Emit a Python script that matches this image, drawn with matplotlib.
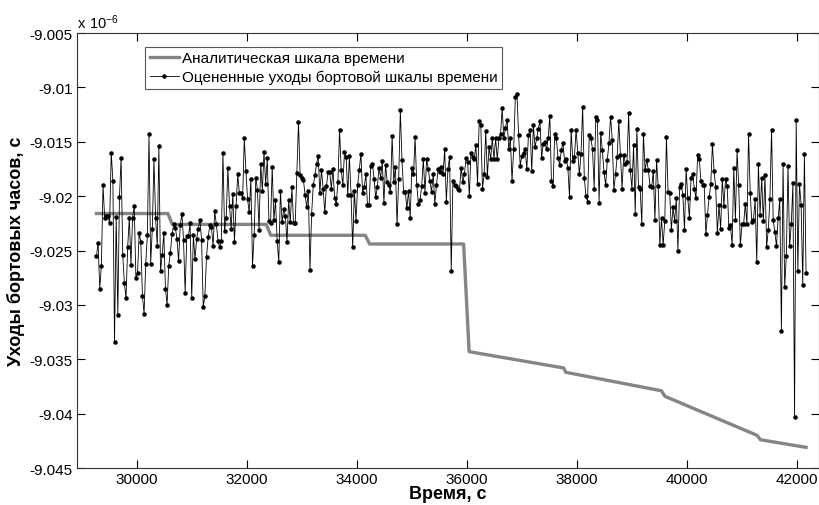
import numpy as np
import matplotlib
matplotlib.use('Agg')
import matplotlib.pyplot as plt

plt.rcParams['font.family'] = ['Liberation Sans', 'DejaVu Sans']
plt.rcParams['axes.unicode_minus'] = False

# оцененные уходы бортовой шкалы времени (в единицах 1e-6 с)
t_first, t_last = 29260, 42170
drift_a = [-9.0255, -9.0243, -9.0285, -9.0264, -9.0190, -9.0220, -9.0218, -9.0218, -9.0225, -9.0160,
           -9.0186, -9.0334, -9.0219, -9.0309, -9.0201, -9.0165, -9.0254, -9.0280, -9.0294, -9.0247,
           -9.0220, -9.0263, -9.0220, -9.0209, -9.0275, -9.0271, -9.0234, -9.0242, -9.0292, -9.0308,
           -9.0262, -9.0236, -9.0143, -9.0262, -9.0230, -9.0166, -9.0220, -9.0246, -9.0154, -9.0269,
           -9.0254, -9.0234, -9.0285, -9.0300, -9.0264, -9.0252, -9.0235, -9.0226, -9.0229, -9.0239,
           -9.0260, -9.0227, -9.0216, -9.0240, -9.0289, -9.0237, -9.0237, -9.0225, -9.0294, -9.0236,
           -9.0258, -9.0239, -9.0230, -9.0222, -9.0240, -9.0302, -9.0292, -9.0256, -9.0238, -9.0227,
           -9.0228, -9.0246, -9.0214, -9.0226, -9.0241, -9.0247, -9.0241, -9.0160, -9.0232, -9.0220,
           -9.0174, -9.0209, -9.0230, -9.0198, -9.0242, -9.0209, -9.0180, -9.0197, -9.0197, -9.0202,
           -9.0147, -9.0177, -9.0203, -9.0215, -9.0184]
drift_b = [-9.0264, -9.0236, -9.0183, -9.0194, -9.0231, -9.0170, -9.0195, -9.0159, -9.0189, -9.0165,
           -9.0223, -9.0225, -9.0173, -9.0222, -9.0204, -9.0241, -9.0261, -9.0195, -9.0224, -9.0212,
           -9.0218, -9.0242, -9.0204, -9.0224, -9.0192, -9.0225, -9.0225, -9.0179, -9.0132, -9.0181,
           -9.0183, -9.0185, -9.0199, -9.0210, -9.0195, -9.0268, -9.0216, -9.0190, -9.0181, -9.0170,
           -9.0163, -9.0197, -9.0176, -9.0193, -9.0215, -9.0191, -9.0178, -9.0178, -9.0193, -9.0175,
           -9.0202, -9.0207, -9.0187, -9.0139, -9.0176, -9.0190, -9.0159, -9.0164, -9.0199, -9.0163,
           -9.0199, -9.0247, -9.0195, -9.0223, -9.0190, -9.0176, -9.0161, -9.0197, -9.0192, -9.0180,
           -9.0208, -9.0208, -9.0172, -9.0170, -9.0184, -9.0201, -9.0192, -9.0174, -9.0183, -9.0168,
           -9.0206, -9.0171, -9.0187, -9.0190, -9.0196, -9.0145, -9.0187, -9.0173, -9.0226, -9.0184]
drift_c = [-9.0121, -9.0167, -9.0196, -9.0196, -9.0211, -9.0195, -9.0220, -9.0174, -9.0180, -9.0146,
           -9.0190, -9.0207, -9.0204, -9.0191, -9.0166, -9.0197, -9.0166, -9.0175, -9.0186, -9.0196,
           -9.0180, -9.0207, -9.0190, -9.0175, -9.0178, -9.0173, -9.0180, -9.0157, -9.0205, -9.0175,
           -9.0164, -9.0269, -9.0186, -9.0190, -9.0191, -9.0193, -9.0194, -9.0174, -9.0187, -9.0180,
           -9.0165, -9.0169, -9.0200, -9.0160, -9.0164, -9.0166, -9.0153, -9.0189, -9.0131, -9.0135,
           -9.0193, -9.0180, -9.0140, -9.0182, -9.0155, -9.0166, -9.0147, -9.0166, -9.0147, -9.0166,
           -9.0147, -9.0143, -9.0119, -9.0147, -9.0137, -9.0130, -9.0157, -9.0147, -9.0186, -9.0157,
           -9.0109, -9.0106, -9.0144, -9.0172, -9.0163, -9.0160, -9.0157, -9.0175, -9.0144, -9.0139,
           -9.0177, -9.0135, -9.0155, -9.0147, -9.0138, -9.0131, -9.0165, -9.0152, -9.0150, -9.0157,
           -9.0147, -9.0126]
drift_d = [-9.0186, -9.0191, -9.0143, -9.0147, -9.0165, -9.0171, -9.0158, -9.0151, -9.0168, -9.0166,
           -9.0174, -9.0201, -9.0139, -9.0168, -9.0164, -9.0139, -9.0160, -9.0180, -9.0161, -9.0118,
           -9.0183, -9.0200, -9.0205, -9.0144, -9.0147, -9.0157, -9.0193, -9.0127, -9.0130, -9.0206,
           -9.0142, -9.0158, -9.0178, -9.0190, -9.0167, -9.0151, -9.0127, -9.0148, -9.0194, -9.0180,
           -9.0164, -9.0131, -9.0162, -9.0193, -9.0162, -9.0170, -9.0169, -9.0124, -9.0176, -9.0193,
           -9.0153, -9.0216, -9.0138, -9.0192, -9.0193, -9.0226, -9.0143, -9.0176, -9.0167, -9.0176,
           -9.0191, -9.0192, -9.0177, -9.0222, -9.0167, -9.0191, -9.0245, -9.0220, -9.0245, -9.0223,
           -9.0146, -9.0196, -9.0197, -9.0231, -9.0210, -9.0223, -9.0202, -9.0250, -9.0192, -9.0189,
           -9.0199, -9.0231, -9.0175, -9.0202, -9.0220, -9.0183, -9.0180, -9.0193, -9.0202, -9.0162,
           -9.0166]
drift_e = [-9.0186, -9.0190, -9.0190, -9.0235, -9.0217, -9.0201, -9.0189, -9.0152, -9.0177, -9.0192,
           -9.0234, -9.0208, -9.0230, -9.0184, -9.0209, -9.0184, -9.0191, -9.0229, -9.0227, -9.0245,
           -9.0174, -9.0222, -9.0158, -9.0190, -9.0245, -9.0226, -9.0226, -9.0207, -9.0226, -9.0143,
           -9.0197, -9.0224, -9.0222, -9.0203, -9.0261, -9.0170, -9.0217, -9.0183, -9.0223, -9.0181,
           -9.0247, -9.0231, -9.0203, -9.0139, -9.0222, -9.0233, -9.0246, -9.0220, -9.0203, -9.0324,
           -9.0170, -9.0284, -9.0255, -9.0172, -9.0246, -9.0226, -9.0188, -9.0403, -9.0130, -9.0269,
           -9.0189, -9.0208, -9.0282, -9.0161, -9.0271]
drift = np.array(drift_a + drift_b + drift_c + drift_d + drift_e)
t_est = np.linspace(t_first, t_last, len(drift))

# аналитическая шкала времени (вершины ломаной)
ref_t = [29260, 30560, 30640, 32350, 32430, 34150, 34230, 35940, 36040,
         37760, 37800, 39540, 39600, 41280, 41340, 42170]
ref_v = [-9.0216, -9.0216, -9.0226, -9.0226, -9.0236, -9.0236, -9.0244, -9.0244, -9.0343,
         -9.0358, -9.0362, -9.0379, -9.0384, -9.0420, -9.0424, -9.0431]

fig = plt.figure(figsize=(8.2, 5.06), dpi=100)
ax = fig.add_axes([0.0935, 0.0731, 0.9049, 0.8597])

ax.plot(ref_t, ref_v, color='#858585', lw=2.4, label='Аналитическая шкала времени')
ax.plot(t_est, drift, color='k', lw=0.6, marker='.', ms=4.5,
        label='Оцененные уходы бортовой шкалы времени')

ax.set_xlim(28900, 42400)
ax.set_ylim(-9.045, -9.005)
ax.set_xticks(np.arange(30000, 42001, 2000))
ax.set_yticks(np.arange(-9.045, -9.0049, 0.005))
ax.set_yticklabels(['-9.045', '-9.04', '-9.035', '-9.03', '-9.025', '-9.02', '-9.015', '-9.01', '-9.005'])
ax.tick_params(direction='in', length=5.5, top=True, right=True, labelsize=11, width=0.8, pad=3)
for s in ax.spines.values():
    s.set_linewidth(0.8)
    s.set_color('#333333')

ax.text(0.0, 1.004, r'$\mathregular{x\ 10^{-6}}$', transform=ax.transAxes,
        ha='left', va='bottom', fontsize=10.5)

ax.set_xlabel('Время, с', fontsize=13, fontweight='bold', labelpad=-1)
ax.set_ylabel('Уходы бортовых часов, с', fontsize=13, fontweight='bold', labelpad=3)

leg = ax.legend(loc='upper left', bbox_to_anchor=(0.092, 0.9685), fontsize=11,
                fancybox=False, framealpha=1, edgecolor='#555555', borderpad=0.3,
                labelspacing=0.3, handlelength=1.9, handletextpad=0.2, borderaxespad=0)
leg.get_frame().set_linewidth(0.8)

fig.savefig('out.png', dpi=100)
